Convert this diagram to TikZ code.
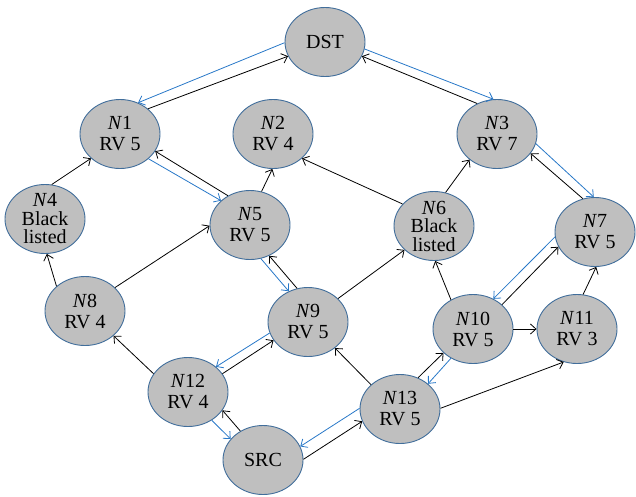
\documentclass[tikz,border=0pt]{standalone}
\usepackage{fontspec}
\setmainfont{Liberation Serif}
\usetikzlibrary{arrows.meta,shapes.geometric}
\definecolor{nodefill}{RGB}{191,191,191}
\definecolor{nodeline}{RGB}{65,110,155}
\definecolor{backblue}{RGB}{40,120,200}
\begin{document}
\begin{tikzpicture}[x=1pt, y=-1pt, >={Straight Barb[length=5.5pt,width=10pt]}, line width=0.8pt,
    rv/.style={ellipse, draw=nodeline, fill=nodefill, line width=0.9pt, minimum width=80pt,
      minimum height=69pt, inner sep=-10pt, align=center, font=\fontsize{20}{21}\selectfont},
    bl/.style={rv, font=\fontsize{20}{18.5}\selectfont},
    back/.style={->, draw=backblue}]
\useasboundingbox (0,0) rectangle (636,496);

% nodes
\node[rv] (DST) at (325,42) {DST};
\node[rv] (N1) at (120,134) {\textit{N}1\\RV 5};
\node[rv] (N2) at (273,134) {\textit{N}2\\RV 4};
\node[rv] (N3) at (497,134) {\textit{N}3\\RV 7};
\node[bl] (N4) at (45,219) {\textit{N}4\\Black\\listed};
\node[rv] (N5) at (250,225) {\textit{N}5\\RV 5};
\node[bl] (N6) at (434,226) {\textit{N}6\\Black\\listed};
\node[rv] (N7) at (595,232) {\textit{N}7\\RV 5};
\node[rv] (N8) at (85,311) {\textit{N}8\\RV 4};
\node[rv] (N9) at (308,322) {\textit{N}9\\RV 5};
\node[rv] (N10) at (473,329) {\textit{N}10\\RV 5};
\node[rv] (N11) at (577,329) {\textit{N}11\\RV 3};
\node[rv] (N12) at (188,392) {\textit{N}12\\RV 4};
\node[rv] (N13) at (400,409) {\textit{N}13\\RV 5};
\node[rv] (SRC) at (263,460) {SRC};

% forward links
\draw[->] (SRC.128) -- (N12.332);
\draw[->] (SRC.1) -- (N13.198);
\draw[->] (N12.152) -- (N8.319);
\draw[->] (N12.28) -- (N9.208);
\draw[->] (N13.140) -- (N9.316);
\draw[->] (N13.60) -- (N10.219);
\draw[->] (N13.1) -- (N11.248);
\draw[->] (N8.139) -- (N4.273) ;
\draw[->] (N8.38) -- (N5.181);
\draw[->] (N9.108) -- (N5.302);
\draw[->] (N9.38) -- (N6.219);
\draw[->] (N10.127) -- (N6.272);
\draw[->] (N10.40) -- (N7.202);
\draw[->] (N10) -- (N11);
\draw[->] (N11.80) -- (N7.272);
\draw[->] (N4.79) -- (N1.220);
\draw[->] (N5.127) -- (N1.334);
\draw[->] (N5.71) -- (N2.269);
\draw[->] (N6.145) -- (N2.320);
\draw[->] (N6.71) -- (N3.223);
\draw[->] (N7.110) -- (N3.330);
\draw[->] (N1.42) -- (DST.201);
\draw[->] (N3.123) -- (DST.339);

% path back
\draw[back] (DST.181) -- (N1.60);
\draw[back] (N1.319) -- (N5.140);
\draw[back] (N5.288) -- (N9.122);
\draw[back] (N9.196) -- (N12.42);
\draw[back] (N12.310) -- (SRC.147);
\draw[back] (DST.350) -- (N3.96);
\draw[back] (N3.346) -- (N7.92);
\draw[back] (N7.187) -- (N10.56);
\draw[back] (N10.233) -- (N13.42);
\draw[back] (N13.179) -- (SRC.20);

\end{tikzpicture}
\end{document}
